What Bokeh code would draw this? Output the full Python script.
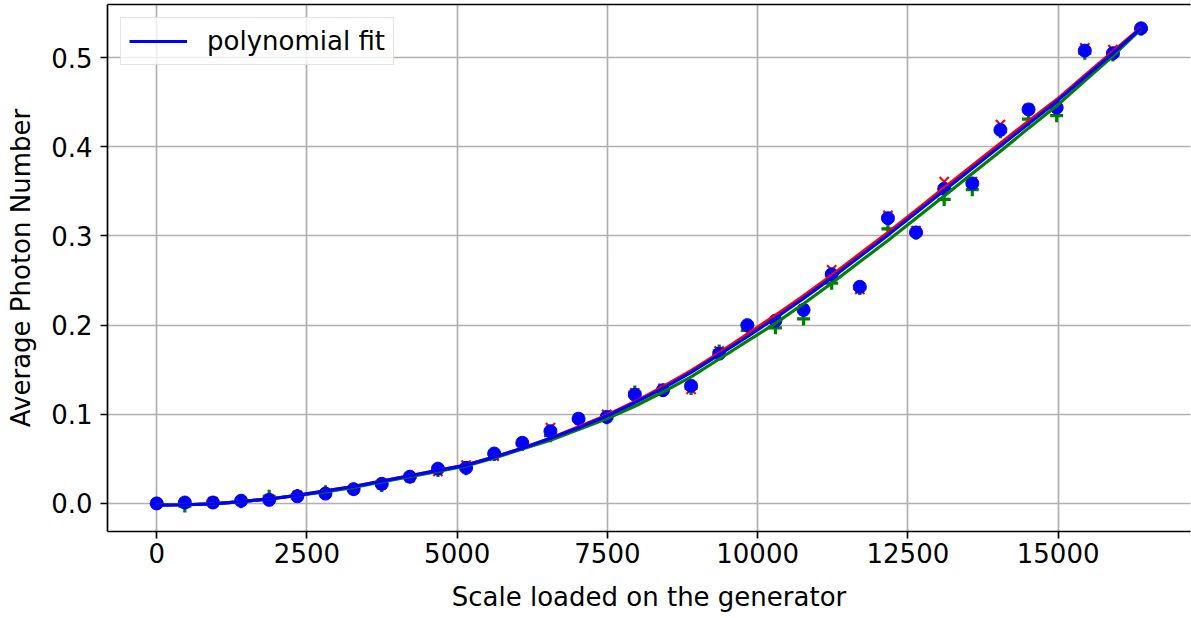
from bokeh.plotting import figure
from bokeh.models import Range1d, SingleIntervalTicker, NumeralTickFormatter, LinearAxis
from bokeh.embed import file_html
from bokeh.resources import INLINE

scale = [0, 468, 936, 1404, 1872, 2340, 2808, 3276, 3744, 4212, 4680, 5148,
         5616, 6084, 6552, 7020, 7488, 7956, 8424, 8892, 9360, 9828, 10296,
         10764, 11232, 11700, 12168, 12636, 13104, 13572, 14040, 14508, 14976,
         15444, 15912, 16380]

photon_blue = [0.000, 0.001, 0.001, 0.003, 0.004, 0.008, 0.011, 0.016, 0.022, 0.030,
               0.039, 0.040, 0.056, 0.068, 0.081, 0.095, 0.097, 0.122, 0.127, 0.132,
               0.168, 0.200, 0.205, 0.217, 0.257, 0.243, 0.320, 0.304, 0.353, 0.359,
               0.419, 0.442, 0.444, 0.508, 0.505, 0.533]

photon_red = [0.000, 0.001, 0.002, 0.003, 0.005, 0.009, 0.011, 0.016, 0.021, 0.029,
              0.036, 0.043, 0.053, 0.068, 0.085, 0.095, 0.100, 0.124, 0.129, 0.128,
              0.171, 0.199, 0.205, 0.218, 0.262, 0.240, 0.323, 0.306, 0.361, 0.361,
              0.425, 0.443, 0.444, 0.511, 0.509, 0.533]

photon_green = [0.000, -0.003, 0.001, 0.002, 0.008, 0.009, 0.013, 0.016, 0.020, 0.030,
                0.037, 0.039, 0.055, 0.066, 0.076, 0.094, 0.096, 0.125, 0.127, 0.129,
                0.171, 0.194, 0.197, 0.207, 0.247, 0.241, 0.308, 0.303, 0.341, 0.352,
                0.417, 0.431, 0.435, 0.505, 0.503, 0.532]

# polynomial-fit curves at each scale value
fit_blue = [-0.002, -0.0015, -0.0005, 0.002, 0.005, 0.009, 0.014, 0.019, 0.025, 0.031,
            0.037, 0.043, 0.052, 0.062, 0.073, 0.085, 0.098, 0.113, 0.129, 0.147,
            0.167, 0.187, 0.208, 0.230, 0.253, 0.277, 0.301, 0.326, 0.351, 0.376,
            0.401, 0.426, 0.451, 0.478, 0.505, 0.533]

fit_red = [-0.002, -0.0015, -0.0005, 0.002, 0.005, 0.009, 0.014, 0.019, 0.025, 0.031,
           0.037, 0.043, 0.052, 0.062, 0.073, 0.086, 0.099, 0.114, 0.131, 0.149,
           0.169, 0.190, 0.211, 0.233, 0.256, 0.280, 0.304, 0.329, 0.354, 0.379,
           0.404, 0.429, 0.453, 0.480, 0.507, 0.534]

fit_green = [-0.002, -0.0015, -0.0005, 0.002, 0.005, 0.009, 0.013, 0.018, 0.024, 0.030,
             0.036, 0.042, 0.051, 0.061, 0.071, 0.083, 0.095, 0.109, 0.125, 0.142,
             0.162, 0.182, 0.202, 0.224, 0.247, 0.271, 0.295, 0.320, 0.345, 0.370,
             0.395, 0.421, 0.446, 0.474, 0.502, 0.532]

FONT = "DejaVu Sans"
FS = "26px"

p = figure(width=1191, height=618, output_backend="svg", toolbar_location=None,
           x_range=Range1d(-819, 17203), y_range=Range1d(-0.0315, 0.5597),
           min_border_left=107, min_border_right=1, min_border_top=0, min_border_bottom=87)
p.outline_line_color = None
p.background_fill_color = "white"
p.border_fill_color = "white"

# markers
p.scatter(scale, photon_red, marker="x", size=13, line_color="red", line_width=2.2)
p.scatter(scale, photon_green, marker="cross", size=13, line_color="green", line_width=3.2)
p.scatter(scale, photon_blue, marker="circle", size=13, fill_color="blue", line_color="blue")

# fit lines
p.line(scale, fit_red, line_color="red", line_width=3.2)
p.line(scale, fit_green, line_color="green", line_width=3.2)
p.line(scale, fit_blue, line_color="blue", line_width=3.2, legend_label="polynomial fit")

# axes
p.xaxis.ticker = SingleIntervalTicker(interval=2500)
p.yaxis.ticker = SingleIntervalTicker(interval=0.1)
p.yaxis.formatter = NumeralTickFormatter(format="0.0")
for ax in (p.xaxis[0], p.yaxis[0]):
    ax.axis_line_width = 1.7
    ax.major_tick_line_width = 1.7
    ax.major_tick_out = 7
    ax.major_tick_in = 0
    ax.minor_tick_line_color = None
    ax.major_label_text_font = FONT
    ax.major_label_text_font_size = FS
    ax.major_label_text_color = "black"
    ax.axis_label_text_font = FONT
    ax.axis_label_text_font_size = FS
    ax.axis_label_text_font_style = "normal"
    ax.axis_label_text_color = "black"
p.xaxis.axis_label = "Scale loaded on the generator"
p.yaxis.axis_label = "Average Photon Number"
p.xaxis.major_label_standoff = 4
p.xaxis.axis_label_standoff = 16
p.yaxis.major_label_standoff = 8
p.yaxis.axis_label_standoff = 12

top = LinearAxis(ticker=SingleIntervalTicker(interval=2500))
top.axis_line_width = 1.7
top.major_tick_line_color = None
top.minor_tick_line_color = None
top.major_tick_out = 0
top.major_tick_in = 0
top.major_label_text_font_size = "0px"
top.major_label_text_color = None
top.major_label_standoff = 0
p.add_layout(top, "above")

# grid
for g in (p.xgrid[0], p.ygrid[0]):
    g.grid_line_color = "#b0b0b0"
    g.grid_line_width = 1.7

# legend
lg = p.legend[0]
lg.location = "top_left"
lg.margin = 13
lg.padding = 8
lg.glyph_width = 58
lg.label_standoff = 20
lg.label_text_font = FONT
lg.label_text_font_size = FS
lg.label_text_color = "black"
lg.border_line_color = "#cccccc"
lg.border_line_width = 1.5
lg.background_fill_alpha = 0.8

open("out.html", "w").write(file_html(p, INLINE))
